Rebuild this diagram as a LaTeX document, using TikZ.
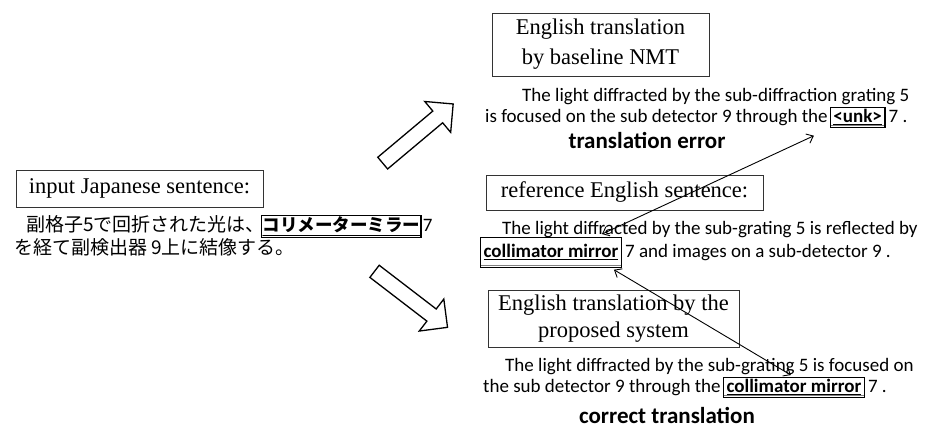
\documentclass[tikz,border=0pt]{standalone}
\usepackage{fontspec}
\setmainfont{Liberation Serif}
\newfontfamily\calib{Carlito}
\newfontfamily\jpfont{Noto Sans CJK JP}
\usetikzlibrary{positioning,shapes.arrows,arrows.meta}

\tikzset{
  titlebox/.style={draw=black!80,line width=0.8pt,align=center,inner sep=0pt,font=\fontsize{22.5}{30}\selectfont},
  sent/.style={inner sep=0pt,font=\calib\fontsize{19}{21}\selectfont},
  jptext/.style={inner sep=0pt,font=\jpfont\fontsize{19}{23}\selectfont},
  wordbox/.style={draw,line width=1.2pt,inner xsep=3pt,inner ysep=2pt,font=\calib\bfseries\fontsize{19}{21}\selectfont,
    path picture={\draw[gray,line width=0.8pt] ([yshift=2pt]path picture bounding box.south west) -- ([yshift=2pt]path picture bounding box.south east);}},
  verdict/.style={inner sep=0pt,font=\calib\bfseries\fontsize{23}{26}\selectfont},
  fatarrow/.style={single arrow,draw,line width=1.3pt,minimum height=92pt,single arrow head extend=12.5pt,inner sep=7pt},
  link/.style={{Straight Barb[length=6pt,width=10pt]}-{Straight Barb[length=6pt,width=10pt]},line width=0.9pt}
}

\begin{document}
\begin{tikzpicture}[x=1pt,y=-1pt]
\useasboundingbox (0,0) rectangle (930,430);
\node[titlebox,minimum width=247pt,minimum height=37pt] (inBox) at (139.5,188.5) {input Japanese sentence:};
\node[jptext,anchor=base west] (jpA) at (26,232) {副格子5で回折された光は、};
\node[wordbox,inner xsep=1pt,font=\jpfont\bfseries\fontsize{17.5}{23}\selectfont,base right=-4pt of jpA] (jpCM) {\underline{コリメーターミラー}};
\node[sent,base right=1pt of jpCM] (jp7) {7};
\node[jptext,anchor=base west] (jpB) at (14,255) {を経て副検出器 9上に結像する。};

\node[fatarrow,rotate=40] (toBase) at (415,136) {};
\node[fatarrow,rotate=-37.5] (toProp) at (408,297) {};

\node[titlebox,minimum width=217pt,minimum height=63pt] (baseBox) at (600.5,44.5) {English translation\\by baseline NMT};
\node[sent,anchor=base west] (baseA) at (522,102) {The light diffracted by the sub-diffraction grating 5};
\node[sent,anchor=base west] (baseB) at (485,123) {is focused on the sub detector 9 through the};
\node[wordbox,base right=2pt of baseB] (unk) {\underline{<unk>}};
\node[sent,base right=3pt of unk] (baseC) {7 .};
\node[verdict] (errLabel) at (647,141) {translation error};

\node[titlebox,minimum width=277pt,minimum height=35pt] (refBox) at (624.5,192.5) {reference English sentence:};
\node[sent,anchor=base west] (refA) at (502,235) {The light diffracted by the sub-grating 5 is reflected by};
\node[wordbox,inner ysep=7pt,anchor=base west] (refCM) at (480,258) {\underline{collimator mirror}};
\node[sent,base right=3pt of refCM] (refB) {7 and images on a sub-detector 9 .};

\node[titlebox,minimum width=251pt,minimum height=57pt,font=\fontsize{22.5}{27}\selectfont] (propBox) at (613.5,318.5) {English translation by the\\proposed system};
\node[sent,anchor=base west] (propA) at (505,372) {The light diffracted by the sub-grating 5 is focused on};
\node[sent,anchor=base west] (propB) at (483,393) {the sub detector 9 through the};
\node[wordbox,base right=2pt of propB] (propCM) {\underline{collimator mirror}};
\node[sent,base right=3pt of propCM] (propC) {7 .};
\node[verdict,anchor=base] (okLabel) at (667,424) {correct translation};

\draw[link] ([xshift=-20pt,yshift=3pt]refCM.north east) -- ([xshift=-16pt,yshift=-8pt]unk.south west);
\draw[link] ([xshift=-8pt,yshift=-2pt]refCM.south east) -- ([xshift=68pt,yshift=2pt]propCM.north west);
\end{tikzpicture}
\end{document}
